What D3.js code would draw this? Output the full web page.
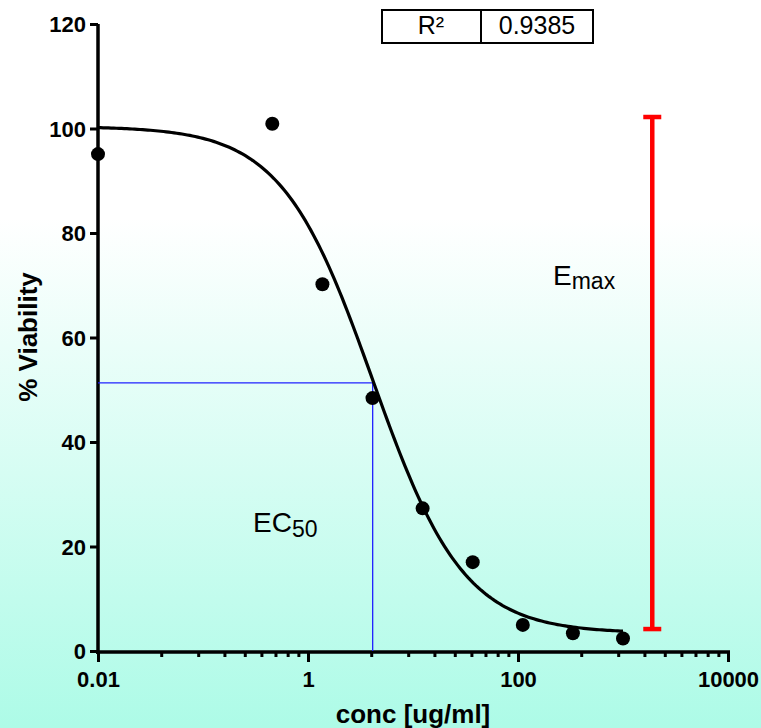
<!DOCTYPE html>
<html><head><meta charset="utf-8">
<script src="https://cdn.jsdelivr.net/npm/d3@7"></script>
<style>body{margin:0;} svg{display:block;}</style>
</head><body>
<script>
// ---- data ----
const concentrations = [0.01, 0.457, 1.372, 4.115, 12.35, 37.04, 111.1, 333.3, 1000];
const viability = [95.1, 100.9, 70.2, 48.4, 27.3, 17.0, 5.0, 3.4, 2.4];
// four-parameter logistic fit
const fitTop = 100.4, fitBottom = 3.4, fitLogEC50 = 0.616, fitHill = 1.0;
const fitRange = [0.01, 1000];
const ec50Point = [4.13, 51.3];
const emaxRange = [4.2, 102.2];
const emaxX = 1900;
const rSquared = "0.9385";
const yTicks = [0, 20, 40, 60, 80, 100, 120];
const xMajorTicks = [0.01, 1, 100, 10000];
const xTickLabels = ["0.01", "1", "100", "10000"];
const minorMultipliers = [4, 9, 16, 25, 36, 49, 64, 81];

const W = 761, H = 728;
const svg = d3.select("body").append("svg").attr("width", W).attr("height", H);
const defs = svg.append("defs");
const grad = defs.append("linearGradient").attr("id","bg").attr("x1",0).attr("y1",0).attr("x2",0).attr("y2",1);
grad.append("stop").attr("offset","0%").attr("stop-color","#ffffff");
grad.append("stop").attr("offset","30%").attr("stop-color","#ffffff");
grad.append("stop").attr("offset","100%").attr("stop-color","#adfbe7");
svg.append("rect").attr("width",W).attr("height",H).attr("fill","url(#bg)");

const x = d3.scaleLog().domain([0.01, 10000]).range([98, 728]);
const y = d3.scaleLinear().domain([0, 120]).range([651, 24]);
const font = "'Liberation Sans', Arial, sans-serif";

// y axis
const yAxis = svg.append("g").attr("transform", "translate(98,0)")
  .call(d3.axisLeft(y).tickValues(yTicks).tickSize(8).tickPadding(4).tickFormat(d3.format("d")));
yAxis.select(".domain").attr("stroke","#000").attr("stroke-width",3.5).attr("d", `M0,${y(120)}V${y(0)+3}`);
yAxis.selectAll(".tick line").attr("stroke","#000").attr("stroke-width",3);
yAxis.selectAll(".tick text").attr("font-family",font).attr("font-size",22).attr("font-weight","bold").attr("fill","#000").attr("dy","0.36em");

// x axis
const minorTicks = [];
for (let i = 0; i < xMajorTicks.length - 1; i++) minorMultipliers.forEach(m => minorTicks.push(xMajorTicks[i] * m));
const xAxisG = svg.append("g").attr("transform", "translate(0,652)");
xAxisG.call(d3.axisBottom(x).tickValues(minorTicks).tickSize(5).tickFormat(""));
xAxisG.select(".domain").attr("stroke","#000").attr("stroke-width",3.5).attr("d", `M${x(0.01)-2},0H${x(10000)+2}`);
xAxisG.selectAll(".tick line").attr("stroke","#000").attr("stroke-width",3);
const xMaj = svg.append("g").attr("transform", "translate(0,652)")
  .call(d3.axisBottom(x).tickValues(xMajorTicks).tickSize(10).tickPadding(9).tickFormat((d,i)=>xTickLabels[i]));
xMaj.select(".domain").remove();
xMaj.selectAll(".tick line").attr("stroke","#000").attr("stroke-width",3);
xMaj.selectAll(".tick text").attr("font-family",font).attr("font-size",22).attr("font-weight","bold").attr("fill","#000");

// axis titles
svg.append("text").attr("x", 413).attr("y", 723).attr("text-anchor","middle")
  .attr("font-family",font).attr("font-size",26).attr("font-weight","bold").text("conc [ug/ml]");
svg.append("text").attr("transform","translate(37,337) rotate(-90)").attr("text-anchor","middle")
  .attr("font-family",font).attr("font-size",26).attr("font-weight","bold").text("% Viability");

// EC50 guide lines
svg.append("path").attr("fill","none").attr("stroke","#2020ff").attr("stroke-width",1.3)
  .attr("d", `M${x(0.01)},${y(ec50Point[1])}H${x(ec50Point[0])}V${y(0)}`);

// fitted curve
const logistic = c => fitBottom + (fitTop - fitBottom) / (1 + Math.pow(10, (Math.log10(c) - fitLogEC50) * fitHill));
const curveX = d3.range(0, 201).map(i => Math.pow(10, Math.log10(fitRange[0]) + i * (Math.log10(fitRange[1]) - Math.log10(fitRange[0])) / 200));
svg.append("path").datum(curveX).attr("fill","none").attr("stroke","#000").attr("stroke-width",3.2)
  .attr("d", d3.line().x(d => x(d)).y(d => y(logistic(d))));

// points
svg.append("g").selectAll("circle").data(concentrations).join("circle")
  .attr("cx", d => x(d)).attr("cy", (d,i) => y(viability[i])).attr("r", 7).attr("fill","#000");

// Emax bar
const ex = x(emaxX);
const eg = svg.append("g").attr("stroke","#ff0000").attr("stroke-width",4.5);
eg.append("line").attr("x1",ex).attr("x2",ex).attr("y1",y(emaxRange[1])).attr("y2",y(emaxRange[0]));
eg.append("line").attr("x1",ex-9).attr("x2",ex+9).attr("y1",y(emaxRange[1])).attr("y2",y(emaxRange[1]));
eg.append("line").attr("x1",ex-9).attr("x2",ex+9).attr("y1",y(emaxRange[0])).attr("y2",y(emaxRange[0]));

// labels
const em = svg.append("text").attr("x",553).attr("y",285).attr("font-family",font).attr("font-size",28);
em.append("tspan").text("E");
em.append("tspan").attr("font-size",23).attr("dy",4).text("max");
const ec = svg.append("text").attr("x",253).attr("y",532).attr("font-family",font).attr("font-size",28);
ec.append("tspan").text("EC");
ec.append("tspan").attr("font-size",23).attr("dy",5).text("50");

// R² box
const bx = svg.append("g");
bx.append("rect").attr("x",382).attr("y",10).attr("width",211).attr("height",33).attr("fill","#fff").attr("stroke","#000").attr("stroke-width",2);
bx.append("line").attr("x1",481).attr("x2",481).attr("y1",10).attr("y2",43).attr("stroke","#000").attr("stroke-width",2);
bx.append("text").attr("x",431).attr("y",34).attr("text-anchor","middle").attr("font-family",font).attr("font-size",25).text("R²");
bx.append("text").attr("x",537).attr("y",34).attr("text-anchor","middle").attr("font-family",font).attr("font-size",25).text(rSquared);
</script>
</body></html>
